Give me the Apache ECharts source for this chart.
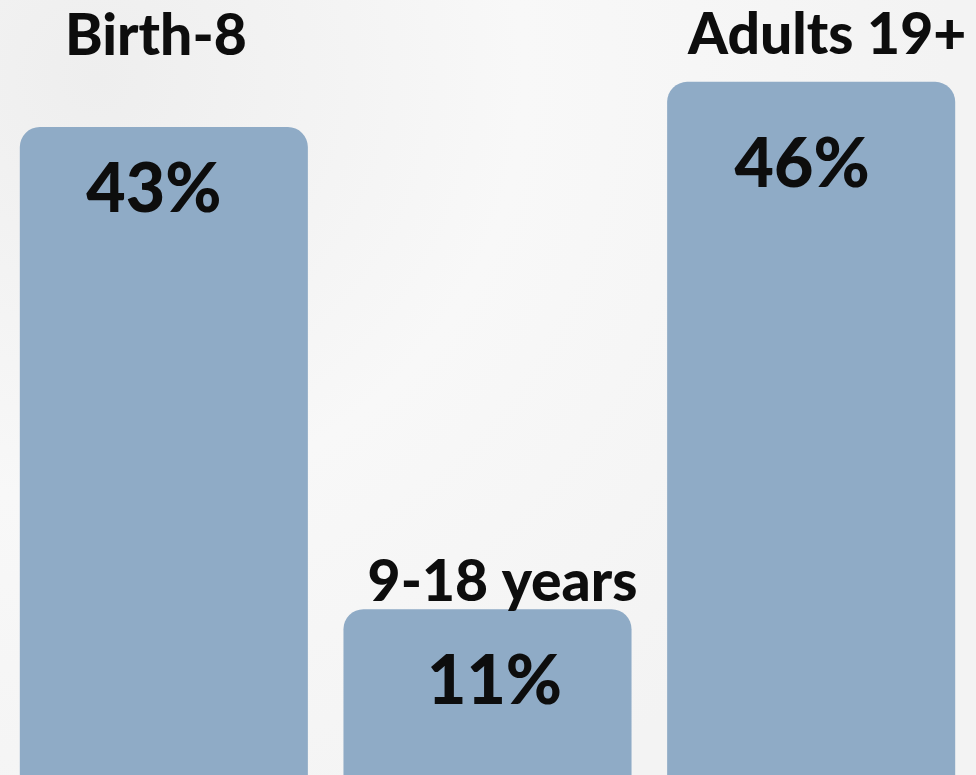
<!DOCTYPE html>
<html>
<head>
<meta charset="utf-8">
<script src="https://cdn.jsdelivr.net/npm/echarts@6/dist/echarts.min.js"></script>
<style>
html,body{margin:0;padding:0;background:#f6f6f6;}
#c{width:976px;height:775px;}
</style>
</head>
<body>
<div id="c"></div>
<script>
const categories = ["Birth-8", "9-18 years", "Adults 19+"];
const values = [43, 11, 46];
const valueLabels = ["43%", "11%", "46%"];

const nameDist = [62, 0, 18];
const nameShiftX = [-8, 15, 16];
const nameShiftY = [0, 2, 0];
const valueDist = [29, 39, 49];
const valueShiftX = [-10, 7, -9];

const chart = echarts.init(document.getElementById('c'), null, {renderer: 'canvas'});
chart.setOption({
  backgroundColor: {
    type: 'radial', x: 0.1, y: 0.1, r: 1.1,
    colorStops: [{offset: 0, color: '#eeeeee'}, {offset: 0.5, color: '#f8f8f8'}, {offset: 1, color: '#f3f3f3'}]
  },
  animation: false,
  grid: {left: 2, right: 3, top: 21.6, bottom: -3.6, containLabel: false},
  xAxis: {
    type: 'category', data: categories,
    axisLine: {show: false}, axisTick: {show: false}, axisLabel: {show: false}
  },
  yAxis: {
    type: 'value', min: 0, max: 50, show: false, splitLine: {show: false}
  },
  series: [
    {
      type: 'bar',
      barCategoryGap: '11%',
      data: values.map((v, i) => ({
        value: v,
        label: {distance: valueDist[i], offset: [valueShiftX[i], 0], formatter: valueLabels[i]}
      })),
      itemStyle: {color: '#8fabc6', borderRadius: [20, 20, 0, 0]},
      label: {
        show: true, position: 'insideTop',
        fontFamily: 'Lato', fontWeight: 900, fontSize: 68, color: '#0d0d0d'
      }
    },
    {
      type: 'bar',
      barGap: '-100%',
      barCategoryGap: '11%',
      data: values.map((v, i) => ({
        value: v,
        label: {distance: nameDist[i], offset: [nameShiftX[i], nameShiftY[i]], formatter: categories[i]}
      })),
      itemStyle: {color: 'rgba(0,0,0,0)'},
      label: {
        show: true, position: 'top',
        fontFamily: 'Lato', fontWeight: 900, fontSize: 57, color: '#0d0d0d'
      },
      silent: true
    }
  ]
});
</script>
</body>
</html>
